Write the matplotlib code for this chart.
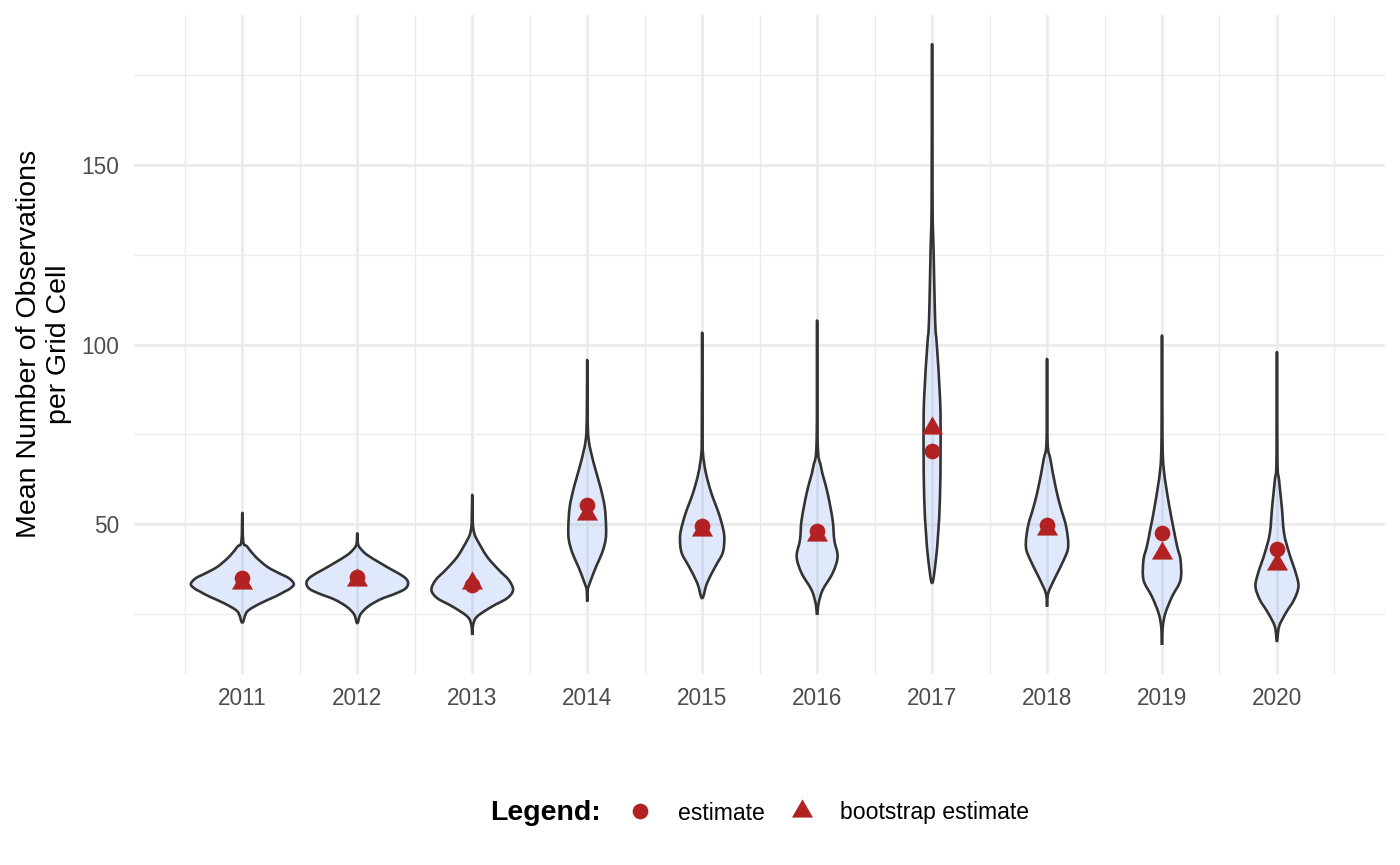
import matplotlib
matplotlib.use("Agg")
import matplotlib.pyplot as plt
from matplotlib.lines import Line2D
from matplotlib.path import Path
from matplotlib.patches import PathPatch
import numpy as np

plt.rcParams['font.family'] = ['Liberation Sans', 'DejaVu Sans']

# ---------------- data ----------------
years = ["2011", "2012", "2013", "2014", "2015", "2016", "2017", "2018", "2019", "2020"]
estimate = [34.9, 35.2, 32.9, 55.3, 49.4, 48.0, 70.2, 49.6, 47.4, 43.0]
bootstrap = [33.5, 34.3, 33.5, 52.8, 48.2, 46.8, 76.8, 48.7, 41.9, 38.9]

# violin outlines: y values (bottom -> top) and half-widths (category units)
v2011_y = [22.5, 25.6, 27.9, 29.8, 31.2, 32.1, 33.3, 34.9, 36.3, 38.1, 40.9, 43.7, 45.1, 53.1]
v2011_w = [0.0, 0.042, 0.158, 0.288, 0.370, 0.419, 0.448, 0.405, 0.318, 0.216, 0.114, 0.042, 0.008, 0.0]
v2012_y = [22.3, 24.8, 27.0, 29.0, 30.6, 32.0, 33.7, 35.3, 37.2, 39.1, 41.4, 43.2, 44.5, 47.4]
v2012_w = [0.0, 0.027, 0.094, 0.201, 0.332, 0.419, 0.442, 0.405, 0.303, 0.201, 0.085, 0.027, 0.006, 0.0]
v2013_y = [19.1, 21.9, 24.2, 27.0, 29.3, 31.6, 34.4, 37.2, 40.9, 45.6, 47.4, 50.2, 58.1]
v2013_w = [0.0, 0.008, 0.042, 0.172, 0.303, 0.355, 0.318, 0.231, 0.129, 0.042, 0.018, 0.005, 0.0]
v2014_y = [28.4, 31.6, 33.5, 38.1, 41.9, 45.6, 49.3, 54.8, 60.4, 66.9, 73.4, 80.9, 95.7]
v2014_w = [0.0, 0.004, 0.022, 0.077, 0.129, 0.160, 0.164, 0.152, 0.114, 0.057, 0.013, 0.003, 0.0]
v2015_y = [29.3, 33.5, 38.1, 41.9, 45.6, 48.4, 53.0, 58.6, 64.1, 69.7, 76.2, 103.3]
v2015_w = [0.0, 0.042, 0.114, 0.178, 0.193, 0.184, 0.144, 0.080, 0.033, 0.007, 0.003, 0.0]
v2016_y = [24.7, 27.9, 31.6, 36.3, 40.9, 45.6, 51.1, 58.6, 66.0, 73.4, 106.7]
v2016_w = [0.0, 0.013, 0.048, 0.135, 0.178, 0.149, 0.135, 0.091, 0.033, 0.004, 0.0]
v2017_y = [33.5, 40.0, 47.5, 56.7, 70.6, 84.5, 100.4, 104.1, 112.4, 126.3, 139.4, 183.7]
v2017_w = [0.0, 0.033, 0.053, 0.068, 0.074, 0.070, 0.040, 0.030, 0.022, 0.013, 0.004, 0.0]
v2018_y = [27.0, 30.7, 35.3, 40.0, 43.7, 49.3, 54.8, 60.4, 67.9, 73.4, 96.0]
v2018_w = [0.0, 0.010, 0.074, 0.146, 0.184, 0.166, 0.117, 0.074, 0.030, 0.004, 0.0]
v2019_y = [16.3, 21.4, 25.2, 29.8, 34.4, 40.0, 43.7, 49.3, 55.8, 65.1, 74.3, 102.5]
v2019_w = [0.0, 0.007, 0.030, 0.088, 0.161, 0.161, 0.132, 0.097, 0.059, 0.016, 0.004, 0.0]
v2020_y = [17.2, 21.4, 25.2, 28.9, 32.6, 36.3, 41.9, 47.4, 54.8, 62.3, 67.9, 97.9]
v2020_w = [0.0, 0.018, 0.077, 0.149, 0.187, 0.164, 0.106, 0.062, 0.042, 0.018, 0.004, 0.0]

violin_y = [v2011_y, v2012_y, v2013_y, v2014_y, v2015_y, v2016_y, v2017_y, v2018_y, v2019_y, v2020_y]
violin_w = [v2011_w, v2012_w, v2013_w, v2014_w, v2015_w, v2016_w, v2017_w, v2018_w, v2019_w, v2020_w]

yticks_major = [50, 100, 150]
yticks_minor = [25, 75, 125, 175]

# ---------------- style ----------------
RED = "#B22222"
GRID = "#EBEBEB"
TXT = "#4D4D4D"
tri = Path([(0, 0.577), (-0.5, -0.2887), (0.5, -0.2887), (0, 0.577)],
           [Path.MOVETO, Path.LINETO, Path.LINETO, Path.CLOSEPOLY])


def smooth_outline(pos, ys, ws):
    """Closed smooth outline (Catmull-Rom drawn as cubic Bezier curves)."""
    ys = np.asarray(ys, float)
    ws = np.asarray(ws, float)
    right = np.column_stack([pos + ws, ys])
    left = np.column_stack([pos - ws[-2:0:-1], ys[-2:0:-1]])
    P = np.vstack([right, left])
    n = len(P)
    verts = [P[0]]
    codes = [Path.MOVETO]
    for i in range(n):
        p0, p1, p2, p3 = P[i - 1], P[i], P[(i + 1) % n], P[(i + 2) % n]
        verts += [p1 + (p2 - p0) / 6.0, p2 - (p3 - p1) / 6.0, p2]
        codes += [Path.CURVE4] * 3
    return Path(np.array(verts), codes)


fig = plt.figure(figsize=(14, 8.65), dpi=100)
ax = fig.add_axes([0.0959, 0.2208, 0.8934, 0.7622])

positions = np.arange(1, len(years) + 1)

for pos, ys, ws in zip(positions, violin_y, violin_w):
    path = smooth_outline(pos, ys, ws)
    ax.add_patch(PathPatch(path, facecolor="cornflowerblue", alpha=0.2,
                           edgecolor="none", zorder=2))
    ax.add_patch(PathPatch(path, facecolor="none", edgecolor="#333333",
                           linewidth=1.9, joinstyle="round", zorder=3))

ax.scatter(positions, estimate, marker="o", s=11.3 ** 2, color=RED, zorder=4, linewidths=0)
ax.scatter(positions, bootstrap, marker=tri, s=17.5 ** 2, color=RED, zorder=4, linewidths=0)

ax.set_xlim(0.06, 10.94)
ax.set_ylim(8.2, 191.9)
ax.set_xticks(positions)
ax.set_xticklabels(years)
ax.set_xticks(np.arange(0.5, len(years) + 1, 1.0), minor=True)
ax.set_yticks(yticks_major)
ax.set_yticks(yticks_minor, minor=True)

ax.grid(which="major", color=GRID, linewidth=1.9)
ax.grid(which="minor", color=GRID, linewidth=0.95)
ax.set_axisbelow(True)
for s in ax.spines.values():
    s.set_visible(False)
ax.tick_params(which="both", length=0)
ax.tick_params(axis="y", labelsize=16.3, labelcolor=TXT, pad=11)
ax.tick_params(axis="x", labelsize=16.3, labelcolor=TXT, pad=9.5)

ax.set_ylabel("Mean Number of Observations\nper Grid Cell", fontsize=20.5,
              color="black", va="center", ma="center", linespacing=1.2)
ax.yaxis.set_label_coords(-0.0723, 0.5)

handles = [
    Line2D([], [], marker="o", ls="none", color=RED, markersize=11.3, markeredgewidth=0),
    Line2D([], [], marker=tri, ls="none", color=RED, markersize=17.5, markeredgewidth=0),
]
fig.legend(handles, ["estimate", "bootstrap estimate"], ncol=2, loc="center left",
           bbox_to_anchor=(628.7 / 1400, 1 - 813 / 865), frameon=False, fontsize=16.6,
           handlelength=1.0, handletextpad=1.14, columnspacing=1.12,
           borderpad=0, borderaxespad=0)
fig.text(490 / 1400, 1 - 813 / 865, "Legend:", fontsize=20.5, fontweight="bold",
         ha="left", va="center", color="black")

fig.savefig("out.png", dpi=100, facecolor="white")
